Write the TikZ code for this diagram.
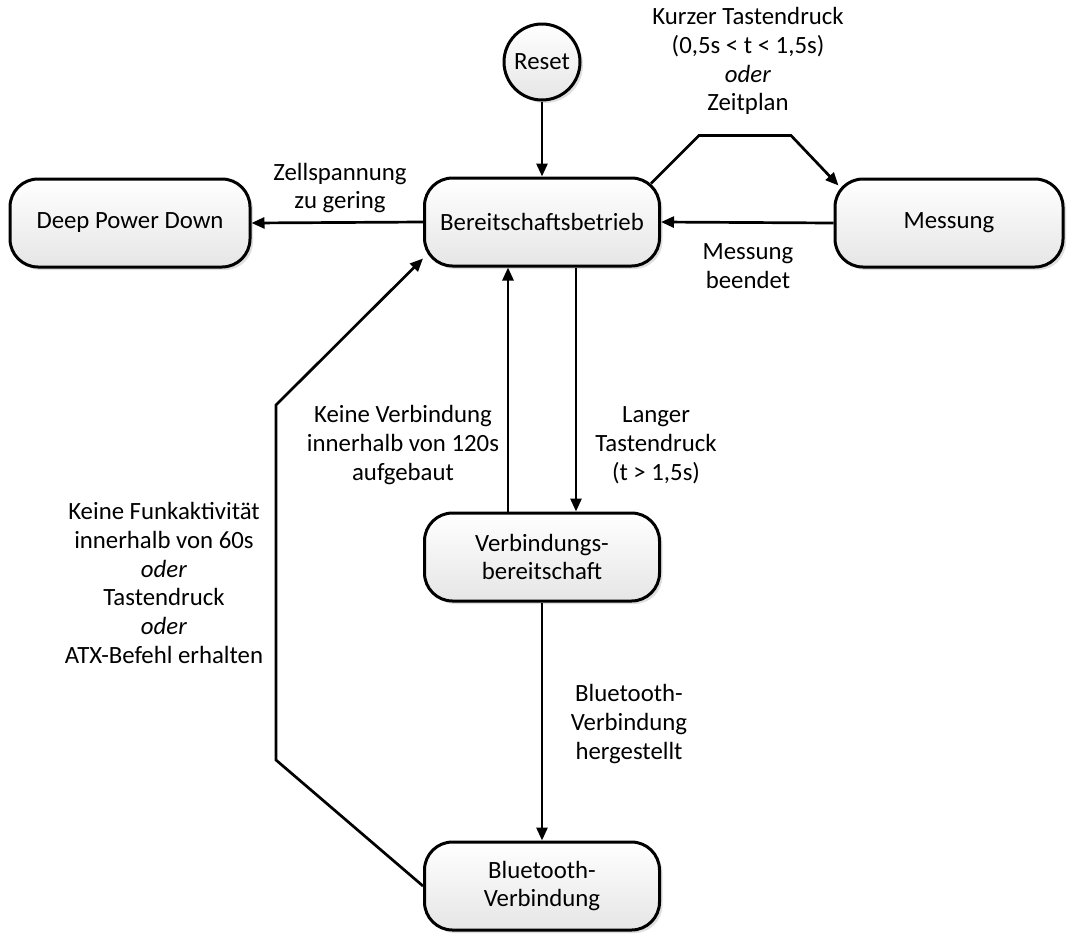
\documentclass[tikz,border=0pt]{standalone}
\usepackage{fontspec}
\setmainfont{Carlito}
\usetikzlibrary{arrows.meta,shadows,calc}
\begin{document}
\begin{tikzpicture}[x=1pt,y=-1pt,
  every node/.style={font=\fontsize{24.8}{28.9}\selectfont, align=center},
  state/.style={draw=black, line width=3pt, rounded corners=28pt,
    minimum width=235pt, minimum height=88pt, inner sep=0pt,
    top color=white, bottom color=black!10,
    drop shadow={opacity=0.25, shadow xshift=3pt, shadow yshift=-3pt}},
  resetstyle/.style={draw=black, line width=3pt, circle, minimum size=76pt, inner sep=0pt,
    top color=white, bottom color=black!10,
    drop shadow={opacity=0.25, shadow xshift=3pt, shadow yshift=-3pt}},
  arr/.style={line width=2.7pt, -{Triangle[length=13pt,width=11pt]}},
  lbl/.style={inner sep=0pt}
]
\useasboundingbox (0,0) rectangle (1067,935);

\node[resetstyle] (R) at (542,62) {Reset};
\node[state] (B) at (542,222) {Bereitschaftsbetrieb};
\node[state, minimum width=240pt] (D) at (130,223) {Deep Power Down};
\node[state, minimum width=228pt] (M) at (949,223) {Messung};
\node[state] (V) at (542,557) {Verbindungs-\\bereitschaft};
\node[state] (BT) at (542,886) {Bluetooth-\\Verbindung};

% connectors
\draw[arr] (R) -- (B);
\draw[arr] (B.west) -- (D.east);
\draw[arr] (M.west) -- (B.east);
\draw[arr] ($(B.north east)+(-10,7)$) -- ++(48,-48) coordinate (k1) -- ++(92,0) coordinate (k2) -- ($(M.north west)+(5,8)$);
\draw[arr] ([xshift=34pt]B.south) -- ([xshift=34pt]V.north);
\draw[arr] ([xshift=-34pt]V.north) -- ([xshift=-34pt]B.south);
\draw[arr] (V.south) -- (BT.north);
\draw[arr] (BT.west) -- (276,760) coordinate (c1) -- (276,405) coordinate (c2) -- ($(B.south west)+(0,-9)$);

% labels
\node[lbl] (l1) at (340,188) {Zellspannung\\zu gering};
\node[lbl] (l2) at (748,266) {Messung\\beendet};
\node[lbl] (l3) at (748,61) {Kurzer Tastendruck\\(0,5s < t < 1,5s)\\\textit{oder}\\Zeitplan};
\node[lbl] (l4) at (656,445) {Langer\\Tastendruck\\(t > 1,5s)};
\node[lbl] (l5) at (403,445) {Keine Verbindung\\innerhalb von 120s\\aufgebaut};
\node[lbl] (l6) at (629,724) {Bluetooth-\\Verbindung\\hergestellt};
\node[lbl] (l7) at (164,583) {Keine Funkaktivität\\innerhalb von 60s\\\textit{oder}\\Tastendruck\\\textit{oder}\\ATX-Befehl erhalten};
\end{tikzpicture}
\end{document}
